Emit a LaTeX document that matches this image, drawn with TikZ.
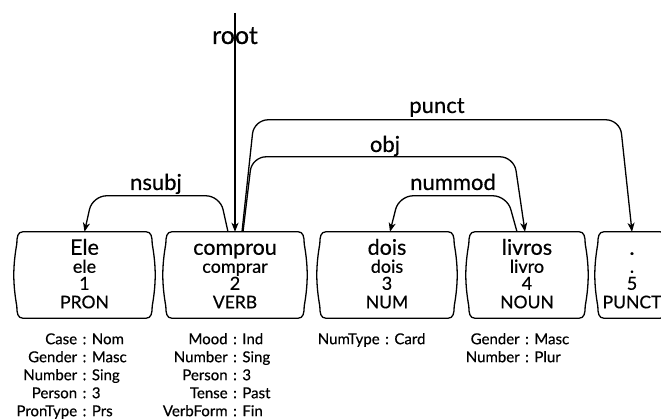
\documentclass[tikz,border=0pt]{standalone}
\usepackage{fontspec}
\setmainfont{Lato}
\newfontfamily\medfont{Lato}[FakeBold=0.45]
\usetikzlibrary{arrows.meta,calc}

\tikzset{
  arcline/.style={line width=1.3pt, rounded corners=14pt, -{Stealth[length=9pt,width=7pt,inset=2.5pt]}},
  boxline/.style={line width=1.3pt},
  frame/.style={inner sep=0pt, minimum height=86pt},
  wordf/.style={anchor=base, inner sep=0pt, font=\medfont\fontsize{21.5}{24}\selectfont},
  lemmaf/.style={anchor=base, inner sep=0pt, font=\medfont\fontsize{18}{20}\selectfont},
  idf/.style={anchor=base, inner sep=0pt, font=\medfont\fontsize{18}{20}\selectfont},
  posf/.style={anchor=base, inner sep=0pt, font=\medfont\fontsize{17.5}{19}\selectfont},
  lab/.style={anchor=base, inner sep=0pt, font=\medfont\fontsize{22}{24}\selectfont},
  rootlab/.style={anchor=base, inner sep=0pt, font=\medfont\fontsize{25}{27}\selectfont},
  feat/.style={anchor=base, inner sep=0pt, font=\medfont\fontsize{15}{17}\selectfont},
}

\newcommand\tokframe[1]{%
  \draw[boxline] let \p1=(#1.north west), \p2=(#1.south east) in
    (\x1+9pt,\y1) -- (\x2-9pt,\y1)
    .. controls (\x2-4pt,\y1) and (\x2-3pt,\y1-5pt) .. (\x2-3pt,\y1-12pt)
    .. controls (\x2+1pt,\y1-35pt) and (\x2+1pt,\y2+35pt) .. (\x2-3pt,\y2+12pt)
    .. controls (\x2-3pt,\y2+5pt) and (\x2-4pt,\y2) .. (\x2-9pt,\y2)
    -- (\x1+9pt,\y2)
    .. controls (\x1+4pt,\y2) and (\x1+3pt,\y2+5pt) .. (\x1+3pt,\y2+12pt)
    .. controls (\x1-1pt,\y2+35pt) and (\x1-1pt,\y1-35pt) .. (\x1+3pt,\y1-12pt)
    .. controls (\x1+3pt,\y1-5pt) and (\x1+4pt,\y1) .. cycle;}

\newcommand\token[7]{%
  \node[frame, minimum width={#3pt-#2pt}] (#1) at ({(#2+#3)/2},275) {};
  \tokframe{#1}
  \node[wordf]  (#1-w) at ([yshift=-23pt]#1.north) {#4};
  \node[lemmaf] (#1-l) at ([yshift=-41pt]#1.north) {#5};
  \node[idf]    (#1-i) at ([yshift=-58pt]#1.north) {#6};
  \node[posf]   (#1-p) at ([yshift=-76.5pt]#1.north) {#7};}

\newcommand\featline[4]{% name, anchor node, line index, key:value text
  \node[feat] (#1) at ([yshift={-26-18*(#3-1)}]#2.south) {#4};}
\newcommand\kv[2]{\makebox[0pt][r]{#1\hspace{5.5pt}}:\makebox[0pt][l]{\hspace{5.5pt}#2}}

\begin{document}
\begin{tikzpicture}[x=1pt,y=-1pt]
\useasboundingbox (0,0) rectangle (661,419);
\clip (0,0) rectangle (661,419);
\fill[white] (0,0) rectangle (661,419);

\token{w1}{14}{155}{Ele}{ele}{1}{PRON}
\token{w2}{163}{307}{comprou}{comprar}{2}{VERB}
\token{w3}{317}{457}{dois}{dois}{3}{NUM}
\token{w4}{466}{588}{livros}{livro}{4}{NOUN}
\token{w5}{595}{669}{.}{.}{5}{PUNCT}

% features
\featline{f1a}{w1}{1}{\kv{Case}{Nom}}
\featline{f1b}{w1}{2}{\kv{Gender}{Masc}}
\featline{f1c}{w1}{3}{\kv{Number}{Sing}}
\featline{f1d}{w1}{4}{\kv{Person}{3}}
\featline{f1e}{w1}{5}{\kv{PronType}{Prs}}

\featline{f2a}{w2}{1}{\kv{Mood}{Ind}}
\featline{f2b}{w2}{2}{\kv{Number}{Sing}}
\featline{f2c}{w2}{3}{\kv{Person}{3}}
\featline{f2d}{w2}{4}{\kv{Tense}{Past}}
\featline{f2e}{w2}{5}{\kv{VerbForm}{Fin}}

\featline{f3a}{w3}{1}{\kv{NumType}{Card}}

\featline{f4a}{w4}{1}{\kv{Gender}{Masc}}
\featline{f4b}{w4}{2}{\kv{Number}{Plur}}

% root
\node[rootlab] (lroot) at (235,44) {root};
\coordinate (rtop) at (235,13);
\draw[arcline] (rtop) -- (w2.north);

% arcs
\draw[arcline] ([xshift=-7pt]w2.north) -- ([xshift=-15pt,yshift=36pt]w2.north)
  -- ([xshift=8pt,yshift=36pt]w1.north) -- (w1.north);
\node[lab] (lnsubj) at (156,190) {nsubj};

\draw[arcline] ([xshift=-10pt]w4.north) -- ([xshift=-20pt,yshift=36pt]w4.north)
  -- ([xshift=12pt,yshift=36pt]w3.north) -- ([xshift=3pt]w3.north);
\node[lab] (lnummod) at (453,190) {nummod};

\draw[arcline] ([xshift=8pt]w2.north) -- ([xshift=17pt,yshift=75pt]w2.north)
  -- ([xshift=-13pt,yshift=75pt]w4.north) -- ([xshift=-2pt]w4.north);
\node[lab] (lobj) at (385,152) {obj};

\draw[arcline] ([xshift=7pt]w2.north) -- ([xshift=19pt,yshift=112pt]w2.north)
  -- ([xshift=-12pt,yshift=112pt]w5.north) -- (w5.north);
\node[lab] (lpunct) at (437,113) {punct};
\end{tikzpicture}
\end{document}
